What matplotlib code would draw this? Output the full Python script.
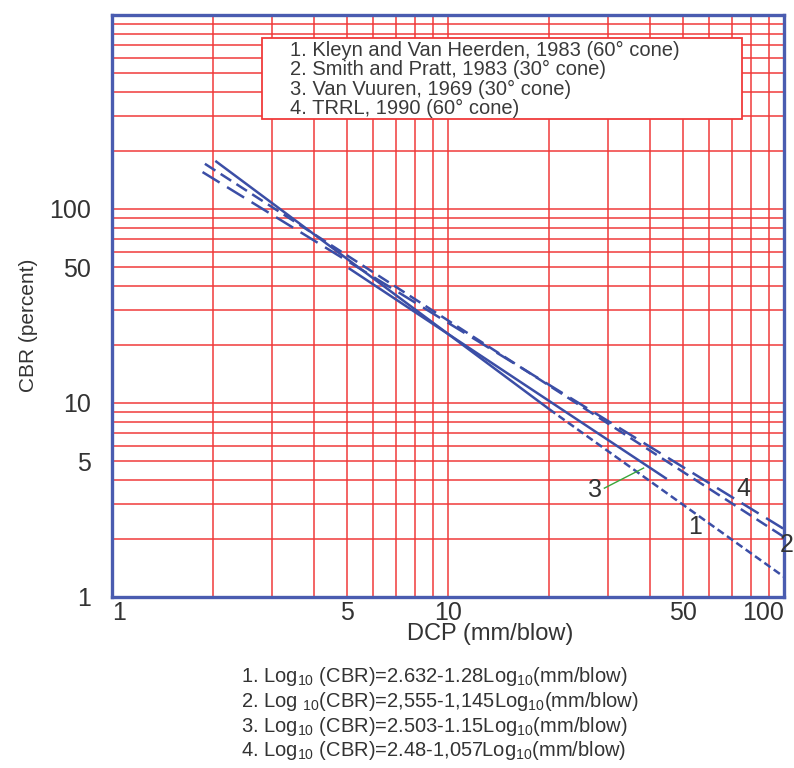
import matplotlib
matplotlib.use("Agg")
import matplotlib.pyplot as plt
from matplotlib.ticker import LogLocator, NullFormatter, FixedLocator, FixedFormatter
from matplotlib.patches import Rectangle

plt.rcParams['font.family'] = ['Liberation Sans', 'DejaVu Sans']
plt.rcParams['mathtext.fontset'] = 'custom'
plt.rcParams['mathtext.rm'] = 'Liberation Sans'
plt.rcParams['mathtext.it'] = 'Liberation Sans'

# ---- data ----
x_ticks = [1, 5, 10, 50, 100]
y_ticks = [1, 5, 10, 50, 100]

legend_labels = [
    "1. Kleyn and Van Heerden, 1983 (60\u00b0 cone)",
    "2. Smith and Pratt, 1983 (30\u00b0 cone)",
    "3. Van Vuuren, 1969 (30\u00b0 cone)",
    "4. TRRL, 1990 (60\u00b0 cone)",
]

equations = [
    r"1. Log$_{10}$ (CBR)=2.632-1.28Log$_{10}$(mm/blow)",
    r"2. Log $_{10}$(CBR)=2,555-1,145Log$_{10}$(mm/blow)",
    r"3. Log$_{10}$ (CBR)=2.503-1.15Log$_{10}$(mm/blow)",
    r"4. Log$_{10}$ (CBR)=2.48-1,057Log$_{10}$(mm/blow)",
]

# line 1 (Kleyn): solid upper part, dashed lower part
line1_solid_dcp = [2.03, 20.0]
line1_solid_cbr = [177.0, 9.3]
line1_dash_dcp = [20.0, 100.0]
line1_dash_cbr = [9.3, 1.27]
# line 2 (Smith & Pratt)
line2_dcp = [1.89, 100.0]
line2_cbr = [171.0, 2.04]
# line 3 (Van Vuuren)
line3_dcp = [5.06, 44.8]
line3_cbr = [49.6, 4.06]
# line 4 (TRRL)
line4_dcp = [1.86, 100.0]
line4_cbr = [155.0, 2.24]

# curve labels
label_text = ["1", "2", "3", "4"]
label_dcp = [54.4, 101.8, 27.3, 75.7]
label_cbr = [2.29, 1.85, 3.56, 3.6]
pointer_dcp = [29.2, 38.2]
pointer_cbr = [3.64, 4.62]

W, H = 794, 768
fig = plt.figure(figsize=(W / 100, H / 100), dpi=100)
L, R, B, T = 112, 784, 597, 15
ax = fig.add_axes([L / W, 1 - B / H, (R - L) / W, (B - T) / H])

ax.set_xscale('log')
ax.set_yscale('log')
ax.set_xlim(1, 100)
ax.set_ylim(1, 1000)

ax.xaxis.set_major_locator(FixedLocator(x_ticks))
ax.xaxis.set_major_formatter(FixedFormatter([str(v) for v in x_ticks]))
ax.yaxis.set_major_locator(FixedLocator(y_ticks))
ax.yaxis.set_major_formatter(FixedFormatter([str(v) for v in y_ticks]))
ax.xaxis.set_minor_locator(LogLocator(base=10, subs=range(1, 10), numticks=20))
ax.yaxis.set_minor_locator(LogLocator(base=10, subs=range(1, 10), numticks=20))
ax.xaxis.set_minor_formatter(NullFormatter())
ax.yaxis.set_minor_formatter(NullFormatter())

grid_color = '#f03a3a'
ax.grid(which='both', color=grid_color, lw=1.1)
ax.set_axisbelow(True)

ax.tick_params(which='both', length=0)
ax.tick_params(axis='x', labelsize=18, pad=3, colors='#333333')
ax.tick_params(axis='y', labelsize=18, pad=15, colors='#333333')
for lab in ax.get_xticklabels():
    if lab.get_text() == '100':
        lab.set_ha('right')
    if lab.get_text() == '1':
        lab.set_ha('left')

spine_color = '#4a5cb0'
for s in ax.spines.values():
    s.set_color(spine_color)
    s.set_linewidth(2.4)

line_color = '#3b4ea6'
lw = 1.8
ax.plot(line1_solid_dcp, line1_solid_cbr, color=line_color, lw=lw, solid_capstyle='butt')
ax.plot(line1_dash_dcp, line1_dash_cbr, color=line_color, lw=lw, dashes=(3, 1.6))
ax.plot(line2_dcp, line2_cbr, color=line_color, lw=lw, dashes=(5, 2.5))
ax.plot(line3_dcp, line3_cbr, color=line_color, lw=lw, solid_capstyle='butt')
ax.plot(line4_dcp, line4_cbr, color=line_color, lw=lw, dashes=(8, 3.5))

for t, xd, yd in zip(label_text, label_dcp, label_cbr):
    ax.text(xd, yd, t, fontsize=18, color='#333333', ha='center', va='center',
            clip_on=False, zorder=6)
ax.plot(pointer_dcp, pointer_cbr, color='#3aa63a', lw=1.0)

# legend box
bx0 = (262 - L) / (R - L)
bx1 = (742 - L) / (R - L)
by0 = (B - 119) / (B - T)
by1 = (B - 38) / (B - T)
ax.add_patch(Rectangle((bx0, by0), bx1 - bx0, by1 - by0, transform=ax.transAxes,
                       facecolor='white', edgecolor=grid_color, lw=1.3, zorder=5))
for i, txt in enumerate(legend_labels):
    ypx = 50 + i * 19.5
    ax.text((290 - L) / (R - L), (B - ypx) / (B - T), txt, transform=ax.transAxes,
            fontsize=14.5, color='#3a3a3a', ha='left', va='center', zorder=6)

# axis labels
fig.text(490 / W, 1 - 634 / H, "DCP (mm/blow)", fontsize=17, color='#333333',
         ha='center', va='center')
fig.text(28 / W, 1 - 325 / H, "CBR (percent)", fontsize=15, color='#333333',
         ha='center', va='center', rotation=90)

# equations
for i, eq in enumerate(equations):
    ypx = 677 + i * 24.5
    fig.text(241 / W, 1 - ypx / H, eq, fontsize=14.5, color='#333333',
             ha='left', va='center')

fig.savefig('out.png', dpi=100)
